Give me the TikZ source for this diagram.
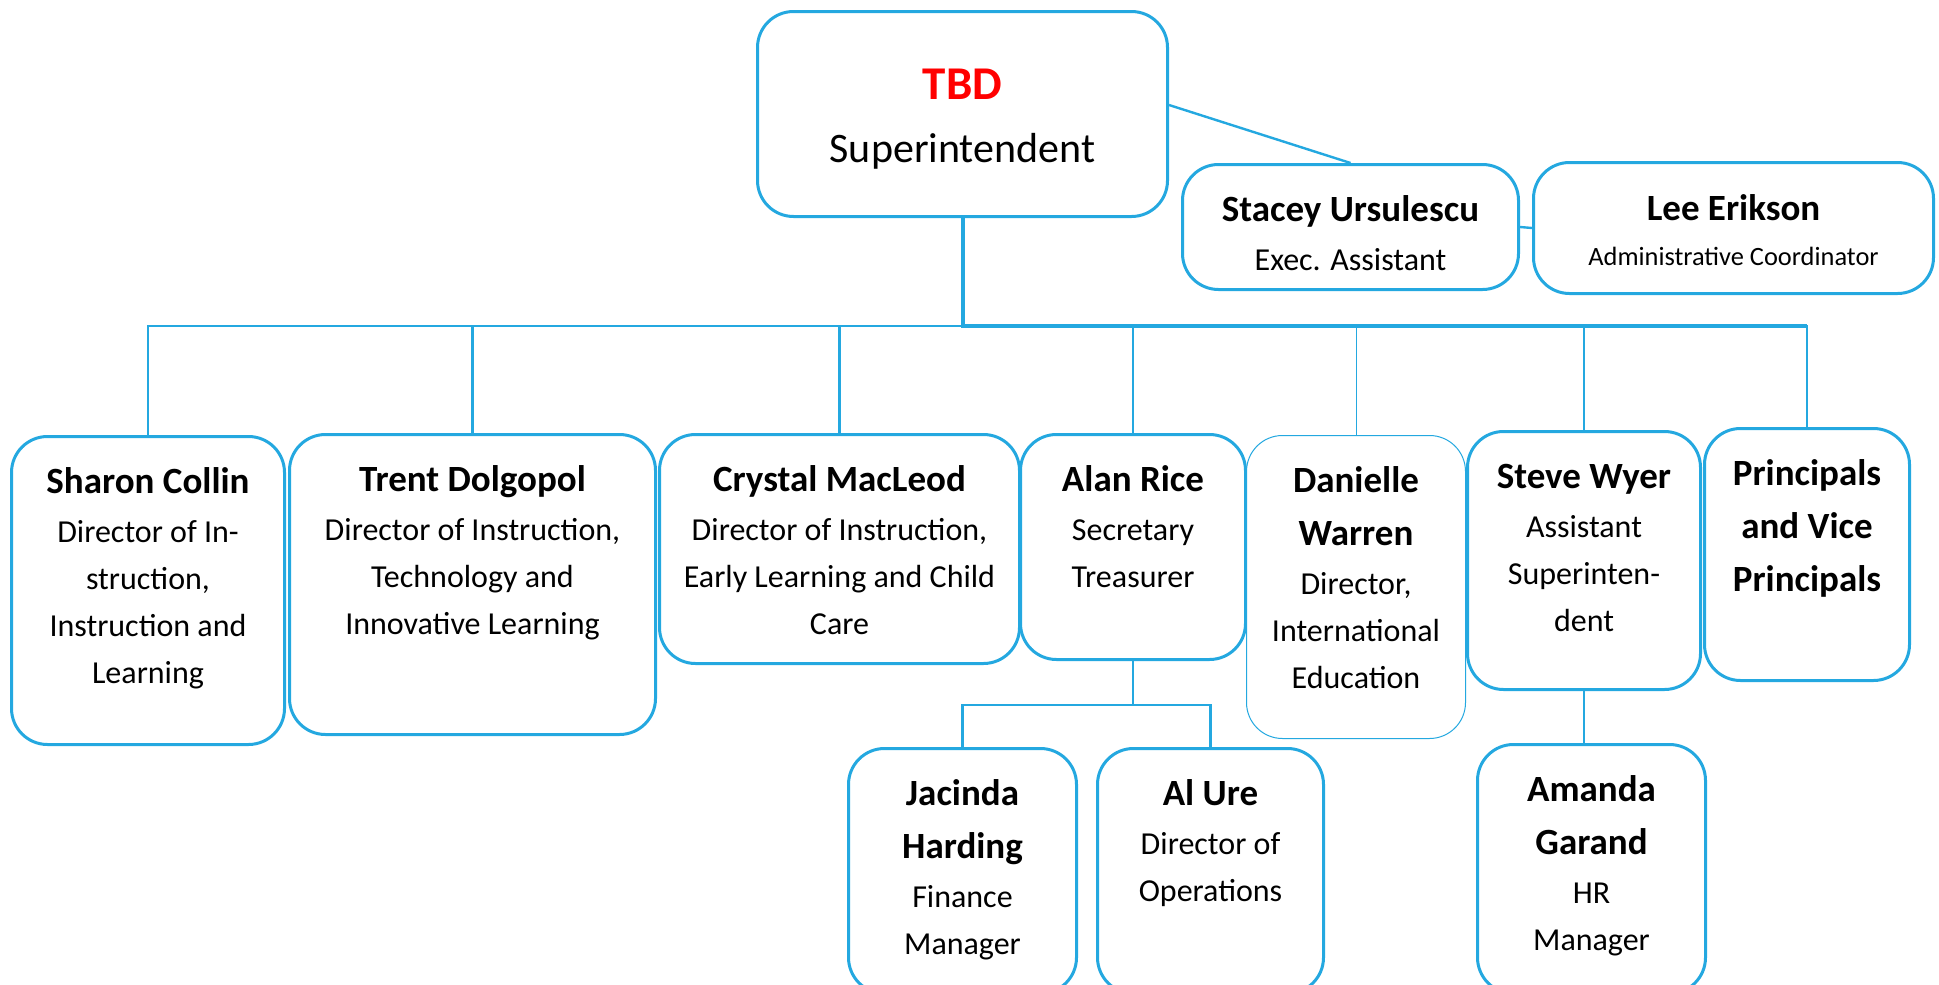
\documentclass[tikz,border=0pt]{standalone}
\usepackage{fontspec}
\setmainfont{Carlito}
\definecolor{orgblue}{RGB}{36,168,224}
\newdimen\pxu \pxu=0.5pt
\newcommand{\namefont}{\fontsize{18.5}{26.5}\selectfont\bfseries}
\newcommand{\rolefont}{\fontsize{16}{23.5}\selectfont\mdseries}
\newcommand{\card}[4]{\parbox[c][#2\pxu][t]{#1\pxu}{\centering
  \namefont\rule{0pt}{57\pxu}#3\par\vspace{2\pxu}\rolefont #4\par}}
\tikzstyle{box}=[draw=orgblue,line width=1.5pt,rounded corners=18pt,
                 fill=white,inner sep=0pt,anchor=north west]
\tikzstyle{thinbox}=[box,line width=0.5pt]
\tikzstyle{link}=[draw=orgblue,line width=1.2pt]
\tikzstyle{trunk}=[link,line width=2pt]
\tikzstyle{thinlink}=[link,line width=0.5pt]

\begin{document}
\begin{tikzpicture}[x=0.5pt,y=-0.5pt]
  \useasboundingbox (0,0) rectangle (1939,985);
  \fill[white] (0,0) rectangle (1939,985);

  % SUPERINTENDENT AND OFFICE
  \node[box] (super) at (756,10) {\parbox[c][205\pxu][t]{410\pxu}{\centering
    {\fontsize{23.5}{31.5}\selectfont\bfseries\color{red}\rule{0pt}{88\pxu}TBD\par}
    \fontsize{21}{31.5}\selectfont Superintendent\par}};
  \node[box] (stacey) at (1181,163)
    {\card{336}{125}{Stacey Ursulescu}{Exec. Assistant}};
  \node[box] (lee) at (1532,161) {\parbox[c][131\pxu][t]{400\pxu}{\centering
    \namefont\rule{0pt}{58\pxu}Lee Erikson\par
    \fontsize{13.2}{22.5}\selectfont\mdseries Administrative Coordinator\par}};

  % DIRECTORS
  \node[box] (sharon) at (10,435)
    {\card{273}{308}{Sharon Collin}{Director of In-\\struction,\\Instruction and\\Learning}};
  \node[box] (trent) at (288,433)
    {\card{366}{300}{Trent Dolgopol}{Director of Instruction,\\Technology and\\Innovative Learning}};
  \node[box] (crystal) at (658,433)
    {\card{360}{229}{Crystal MacLeod}{Director of Instruction,\\Early Learning and Child\\Care}};
  \node[box] (alan) at (1019,433)
    {\card{225}{225}{Alan Rice}{Secretary\\Treasurer}};
  \node[thinbox] (danielle) at (1246,435)
    {\card{219}{303}{Danielle\\Warren}{Director,\\International\\Education}};
  \node[box] (steve) at (1466,430)
    {\card{233}{258}{Steve Wyer}{Assistant\\Superinten-\\dent}};
  \node[box] (principals) at (1703,427)
    {\card{205}{252}{Principals\\and Vice\\Principals}{}};

  % THIRD ROW
  \node[box] (jacinda) at (847,747)
    {\card{228}{245}{Jacinda\\Harding}{Finance\\Manager}};
  \node[box] (alure) at (1096,747)
    {\card{226}{245}{Al Ure}{Director of\\Operations}};
  \node[box] (amanda) at (1476,743)
    {\card{228}{249}{Amanda\\Garand}{HR\\Manager}};

  % CONNECTORS
  \draw[link] (super.east) ++(0,-9) -- (stacey.north);
  \draw[link] (stacey.east) -- (lee.west);
  \path (super.south) ++(0,108) coordinate (bus);
  \draw[trunk] (super.south) -- (bus) -- (bus -| principals.north);
  \foreach \who in {sharon,trent,crystal,alan,steve,principals}
    \draw[link] (bus) -| (\who.north);
  \draw[thinlink] (bus) -| (danielle.north);
  \draw[link] (alan.south) -- ++(0,44) coordinate (sub) -| (jacinda.north);
  \draw[link] (sub) -| (alure.north);
  \draw[link] (steve.south) -- (steve.south |- amanda.north);
\end{tikzpicture}
\end{document}
